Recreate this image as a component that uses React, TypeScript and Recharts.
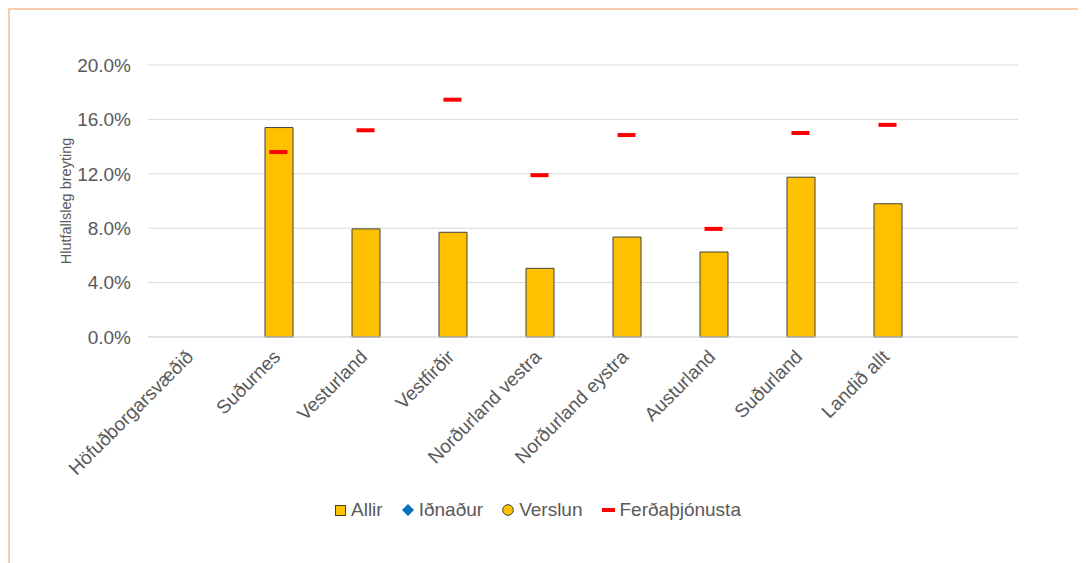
import React from 'react';
import { ComposedChart, Bar, Scatter, XAxis, YAxis, CartesianGrid, Legend } from 'recharts';

const regions = [
  'Höfuðborgarsvæðið',
  'Suðurnes',
  'Vesturland',
  'Vestfirðir',
  'Norðurland vestra',
  'Norðurland eystra',
  'Austurland',
  'Suðurland',
  'Landið allt',
  '',
];
const allir = [null, 15.4, 7.95, 7.7, 5.05, 7.35, 6.25, 11.75, 9.8, null];
const idnadur = [null, null, null, null, null, null, null, null, null, null];
const verslun = [null, null, null, null, null, null, null, null, null, null];
const ferdathjonusta = [null, 13.6, 15.2, 17.45, 11.9, 14.85, 7.95, 15.0, 15.6, null];
const yTicks = [0, 4, 8, 12, 16, 20];

const data = regions.map((name, i) => ({
  name,
  Allir: allir[i],
  Iðnaður: idnadur[i],
  Verslun: verslun[i],
  Ferðaþjónusta: ferdathjonusta[i],
}));

const textColor = '#595959';
const font = '"Liberation Sans", Arial, sans-serif';

const XTick = ({ x, y, payload }: any) => (
  <text
    x={x + 3}
    y={y + 21}
    textAnchor="end"
    transform={`rotate(-45, ${x + 3}, ${y + 21})`}
    fill={textColor}
    fontSize={19}
    fontFamily={font}
  >
    {payload.value}
  </text>
);

const Dash = (props: any) => {
  const { cx, cy } = props;
  if (cx == null || cy == null) return null;
  return <rect x={cx - 9} y={cy - 2} width={18} height={4} fill="#FF0000" />;
};

const LegendBox = () => {
  const item = { display: 'flex', alignItems: 'center', marginRight: 19 } as const;
  const label = { marginLeft: 5 } as const;
  return (
    <div style={{ display: 'flex', alignItems: 'center', height: 24, fontSize: 19, color: textColor, fontFamily: font }}>
      <div style={item}>
        <svg width={11} height={11}>
          <rect x={0.5} y={0.5} width={10} height={10} fill="#FFC000" stroke="#404040" />
        </svg>
        <span style={label}>Allir</span>
      </div>
      <div style={item}>
        <svg width={12} height={12}>
          <polygon points="6,0 12,6 6,12 0,6" fill="#0070C0" />
        </svg>
        <span style={label}>Iðnaður</span>
      </div>
      <div style={item}>
        <svg width={12} height={12}>
          <circle cx={6} cy={6} r={5.3} fill="#FFC000" stroke="#404040" />
        </svg>
        <span style={label}>Verslun</span>
      </div>
      <div style={item}>
        <svg width={13} height={4}>
          <rect x={0} y={0} width={13} height={4} fill="#FF0000" />
        </svg>
        <span style={label}>Ferðaþjónusta</span>
      </div>
    </div>
  );
};

export default function App() {
  return (
    <div style={{ width: 1076, height: 553, borderTop: '2px solid #F8CBAD', borderLeft: '2px solid #F8CBAD', background: '#fff' }}>
      <ComposedChart width={1076} height={553} data={data} margin={{ top: 55, right: 68, bottom: 41, left: 0 }}>
        <CartesianGrid vertical={false} stroke="#D9D9D9" strokeWidth={1} />
        <XAxis
          dataKey="name"
          interval={0}
          height={161}
          tickLine={false}
          tickSize={0}
          tickMargin={0}
          axisLine={{ stroke: '#D9D9D9' }}
          tick={<XTick />}
        />
        <YAxis
          width={138}
          domain={[0, 20]}
          ticks={yTicks}
          tickFormatter={(v: number) => `${v.toFixed(1)}%`}
          axisLine={false}
          tickLine={false}
          tickSize={0}
          tickMargin={17}
          tick={{ fill: textColor, fontSize: 19, fontFamily: font }}
          label={({ viewBox }: any) => (
            <text
              x={viewBox.x + 56}
              y={viewBox.y + viewBox.height / 2}
              textAnchor="middle"
              dominantBaseline="central"
              transform={`rotate(-90, ${viewBox.x + 56}, ${viewBox.y + viewBox.height / 2})`}
              fill={textColor}
              fontSize={14.5}
              fontFamily={font}
            >
              Hlutfallsleg breyting
            </text>
          )}
        />
        <Legend verticalAlign="bottom" align="left" content={<LegendBox />} wrapperStyle={{ left: 325, width: 'auto' }} />
        <Bar dataKey="Allir" fill="#FFC000" stroke="#404040" strokeWidth={1} barSize={28} isAnimationActive={false} />
        <Scatter dataKey="Iðnaður" fill="#0070C0" isAnimationActive={false} />
        <Scatter dataKey="Verslun" fill="#FFC000" isAnimationActive={false} />
        <Scatter dataKey="Ferðaþjónusta" shape={<Dash />} isAnimationActive={false} />
      </ComposedChart>
    </div>
  );
}
